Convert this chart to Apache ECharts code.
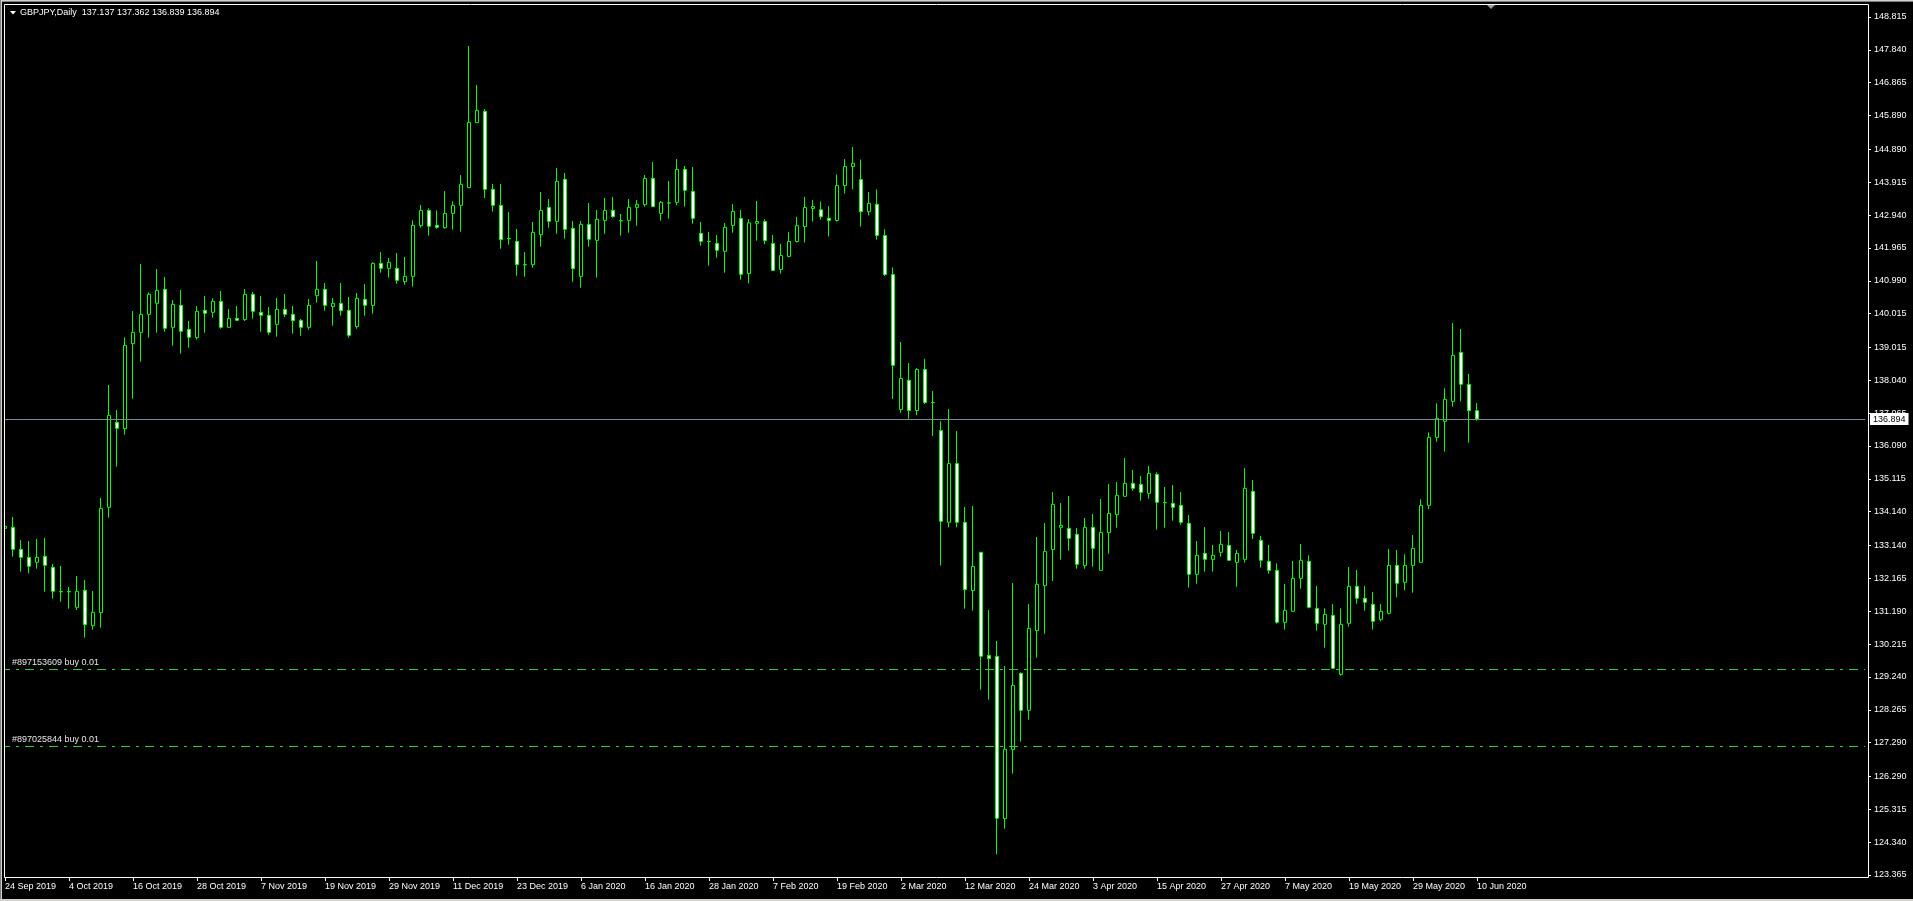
<!DOCTYPE html>
<html><head><meta charset="utf-8">
<script src="https://cdn.jsdelivr.net/npm/echarts@6/dist/echarts.min.js"></script>
<style>html,body{margin:0;padding:0;background:#000;overflow:hidden}#c{width:1913px;height:901px}</style>
</head><body><div id="c"></div><script>
const symbolName = 'GBPJPY,Daily';
const firstDate = '2019-09-24';
const holidays = ['2019-12-25', '2020-01-01'];
const futureSlots = 48;

const opens = [133.648,133.678,133.025,132.788,132.640,132.818,132.491,131.775,131.775,131.305,
131.809,130.761,131.147,134.271,136.792,136.604,139.126,139.462,139.996,140.322,
140.737,139.610,140.263,139.551,139.304,140.114,140.055,140.381,139.610,139.877,
139.838,140.589,140.055,139.966,139.699,140.144,139.996,139.818,139.610,140.549,
140.737,140.223,140.322,140.114,139.630,140.440,140.262,141.508,141.360,141.360,
140.964,141.123,142.625,143.080,142.635,142.566,142.991,143.229,143.753,145.681,
146.017,143.703,143.229,142.245,142.160,141.470,141.468,142.358,143.169,142.754,
144.000,142.546,141.122,142.665,142.190,142.783,143.080,142.776,142.783,143.169,
143.248,144.029,142.991,143.300,143.317,144.296,143.644,142.398,142.162,142.101,
141.864,142.635,142.843,141.203,142.694,142.749,142.100,141.327,141.714,142.156,
142.597,143.136,143.095,142.846,142.777,143.813,144.379,143.992,143.039,143.260,
142.335,141.175,137.170,138.040,137.142,138.358,137.379,136.549,133.828,135.568,
133.826,131.799,132.936,129.881,129.851,125.036,127.083,129.347,128.249,130.612,
131.947,133.015,133.677,133.648,133.470,132.540,133.677,132.402,133.519,134.053,
134.597,134.982,134.953,134.686,135.249,134.411,134.389,134.330,133.796,132.283,
132.906,132.728,132.936,133.144,132.639,132.728,134.745,133.292,132.669,132.402,
130.860,131.186,132.165,132.669,131.275,130.800,131.067,129.317,130.830,131.928,
131.572,131.394,130.949,131.127,132.550,132.046,132.550,132.639,134.330,136.347,
136.822,137.415,138.868,137.919,137.137];

const highs = [134.607,133.984,133.302,133.272,133.332,133.362,132.590,132.531,131.908,132.234,
132.116,131.789,134.548,137.900,137.158,139.313,140.095,141.489,140.648,141.340,
141.103,140.421,140.717,139.798,140.243,140.540,140.470,140.688,140.154,140.243,
140.747,140.658,140.539,140.213,140.480,140.599,140.243,139.857,140.450,141.577,
140.925,140.480,140.925,140.510,140.628,140.895,141.538,141.845,141.667,141.815,
141.696,142.784,143.239,143.140,143.080,143.654,143.347,144.128,147.955,146.798,
146.086,143.861,143.861,143.031,142.526,141.844,142.734,143.624,143.416,144.336,
144.187,142.764,142.764,143.298,143.090,143.446,143.476,142.971,143.416,143.387,
144.128,144.514,143.357,143.950,144.603,144.395,144.365,142.734,142.437,142.348,
142.704,143.268,143.090,142.818,143.357,142.818,142.349,142.087,142.432,142.888,
143.481,143.385,143.343,143.205,144.144,144.600,144.959,144.586,143.619,143.702,
142.515,141.382,139.173,138.551,138.399,138.676,137.723,136.825,137.184,136.535,
134.280,134.310,132.950,131.225,130.306,129.564,132.026,129.376,131.403,133.391,
133.806,134.725,134.399,134.607,133.658,133.954,134.073,134.518,134.963,135.022,
135.734,135.378,135.200,135.497,135.309,134.874,134.933,134.725,134.043,133.272,
133.687,133.153,133.569,133.539,133.005,135.437,135.082,133.420,133.153,132.610,
131.997,132.679,133.183,132.847,131.938,131.275,131.404,131.275,132.501,132.412,
131.938,131.760,131.404,133.035,133.005,132.877,133.450,134.508,136.495,137.356,
137.801,139.738,139.560,138.226,137.362];

const lows = [133.520,132.808,132.363,132.314,132.452,131.770,131.562,131.473,131.265,131.226,
130.405,130.642,130.702,133.965,135.477,136.426,137.494,138.592,139.304,139.452,
139.482,139.066,138.829,139.007,139.244,139.452,139.897,139.571,139.600,139.798,
139.798,139.867,139.481,139.392,139.333,139.917,139.422,139.363,139.541,140.342,
140.104,139.659,139.956,139.303,139.570,139.956,140.016,141.231,141.083,140.905,
140.875,140.816,142.566,142.329,142.537,142.537,142.507,142.447,143.740,145.670,
143.446,143.041,141.943,142.062,141.142,141.112,141.379,142.002,142.566,142.388,
142.240,140.964,140.786,142.002,141.083,142.388,142.863,142.329,142.418,142.625,
143.189,143.180,142.774,142.833,143.228,143.189,142.684,142.032,141.439,141.676,
141.231,142.418,141.023,140.913,142.183,142.073,141.285,141.203,141.686,142.128,
142.128,142.749,142.805,142.307,142.749,143.578,143.702,142.597,142.929,142.211,
141.134,137.488,137.074,136.894,137.004,137.336,136.383,132.544,133.676,133.676,
131.265,131.205,128.862,128.566,123.980,124.739,126.371,127.320,127.972,129.811,
130.523,132.085,132.718,132.985,132.451,132.451,132.511,132.392,132.896,133.667,
134.587,134.765,134.468,134.528,133.608,133.667,133.875,133.756,131.888,132.006,
132.363,132.363,132.807,132.689,131.918,132.630,133.331,132.481,132.303,130.820,
130.642,131.176,131.858,131.275,130.613,130.108,129.486,129.278,130.731,131.413,
131.206,130.642,130.889,131.097,131.601,131.809,131.740,132.630,134.211,136.219,
135.922,137.257,137.415,136.189,136.839];

const closes = [133.707,133.025,132.788,132.521,132.788,132.551,131.780,131.765,131.765,131.780,
130.791,131.157,134.241,137.000,136.614,139.076,139.462,139.996,140.589,140.708,
139.581,140.292,139.492,139.314,140.085,140.025,140.381,139.610,139.877,139.818,
140.589,140.085,139.966,139.462,140.144,139.996,139.808,139.610,140.262,140.737,
140.262,140.322,140.104,139.373,140.470,140.262,141.508,141.360,141.538,141.004,
141.123,142.635,143.080,142.606,142.576,142.991,143.229,143.852,145.691,146.047,
143.703,143.229,142.210,142.235,141.468,141.466,142.427,143.080,142.754,143.941,
142.516,141.350,142.665,142.220,142.813,143.080,142.892,142.772,143.169,143.258,
144.029,143.189,143.317,143.296,144.296,143.673,142.843,142.160,142.158,141.894,
142.576,143.050,141.182,142.708,142.749,142.183,141.299,141.741,142.156,142.625,
143.164,143.191,142.888,142.777,143.813,144.379,144.476,143.039,143.288,142.335,
141.175,138.482,138.095,137.142,138.358,137.377,137.375,133.856,135.568,133.828,
131.828,132.520,129.851,129.782,125.046,127.093,128.991,128.249,130.682,131.987,
132.965,134.359,133.737,133.351,132.580,133.677,133.054,133.529,134.093,134.627,
134.982,134.834,134.716,135.279,134.419,134.407,134.271,133.826,132.283,132.847,
132.728,132.847,133.173,132.699,132.906,134.834,133.499,132.699,132.402,130.860,
131.216,132.165,132.699,131.305,130.830,131.097,129.496,130.800,131.928,131.572,
131.453,130.889,131.186,132.550,132.017,132.550,133.054,134.330,136.347,136.911,
137.474,138.779,137.919,137.137,136.894];

const priceTicks = [148.815,147.840,146.865,145.890,144.890,143.915,142.940,141.965,140.990,140.015,
139.015,138.040,137.065,136.090,135.115,134.140,133.140,132.165,131.190,130.215,
129.240,128.265,127.290,126.290,125.315,124.340,123.365];

const orderLabels = ['#897153609 buy 0.01', '#897025844 buy 0.01'];
const orderPrices = [129.465, 127.19];
const bidPrice = 136.894;
const priceMin = 123.3057, priceMax = 149.2006;

// trading-day categories
const MONTHS = ['Jan','Feb','Mar','Apr','May','Jun','Jul','Aug','Sep','Oct','Nov','Dec'];
const dates = [];
(function () {
  let d = new Date(firstDate + 'T00:00:00Z');
  while (dates.length < opens.length) {
    const iso = d.toISOString().slice(0, 10);
    const wd = d.getUTCDay();
    if (wd !== 0 && wd !== 6 && holidays.indexOf(iso) < 0) {
      dates.push(d.getUTCDate() + ' ' + MONTHS[d.getUTCMonth()] + ' ' + d.getUTCFullYear());
    }
    d = new Date(d.getTime() + 86400000);
  }
})();
const categories = dates.concat(new Array(futureSlots).fill(''));
const candles = opens.map((o, i) => [o, closes[i], lows[i], highs[i]]);

const last = opens.length - 1;
const titleText = symbolName + '  ' + [opens[last], highs[last], lows[last], closes[last]].map(v => v.toFixed(3)).join(' ');

const FONT = 'Liberation Sans';
const LIME = '#00ff00';
const tickEvery = (i, v) => i % 8 === 0 && v !== '';

const chart = echarts.init(document.getElementById('c'), null, { renderer: 'canvas' });
const markData = [
  {
    yAxis: bidPrice,
    lineStyle: { color: '#778899', type: 'solid', width: 1 },
    label: {
      show: true, position: 'end', distance: 5,
      formatter: bidPrice.toFixed(3),
      color: '#000', backgroundColor: '#fff', padding: [2, 3, 1, 3],
      fontFamily: FONT, fontSize: 9
    }
  }
].concat(orderPrices.map((p, k) => ({
  yAxis: p,
  lineStyle: { color: '#32cd32', type: [9, 6, 3, 6], width: 1 },
  label: {
    show: true, position: 'insideStartTop', distance: [11, 2],
    formatter: orderLabels[k],
    color: '#e6e6e6', fontFamily: FONT, fontSize: 9
  }
})));

chart.setOption({
  animation: false,
  backgroundColor: '#000',
  textStyle: { fontFamily: FONT },
  grid: { left: 1, top: 4, width: 1864, height: 873, show: false },
  xAxis: {
    type: 'category', data: categories, boundaryGap: true,
    axisLine: { show: false },
    axisTick: { show: true, alignWithLabel: true, interval: tickEvery, length: 4, lineStyle: { color: '#fff' } },
    axisLabel: { interval: tickEvery, align: 'left', color: '#fff', fontFamily: FONT, fontSize: 9, margin: 5 },
    splitLine: { show: false }
  },
  yAxis: {
    type: 'value', position: 'right', offset: 3, scale: true,
    min: priceMin, max: priceMax,
    axisLine: { show: false },
    axisTick: { show: true, length: 3, lineStyle: { color: '#fff' }, customValues: priceTicks },
    axisLabel: { color: '#fff', fontFamily: FONT, fontSize: 9, margin: 6, customValues: priceTicks,
      formatter: v => Number(v).toFixed(3) },
    splitLine: { show: false }
  },
  series: [{
    type: 'candlestick',
    data: candles,
    barWidth: 4,
    clip: true,
    itemStyle: {
      color: '#000', color0: '#fff',
      borderColor: LIME, borderColor0: LIME, borderColorDoji: LIME, borderWidth: 1
    },
    markLine: {
      silent: true, symbol: ['none', 'none'], animation: false,
      data: markData
    }
  }],
  graphic: [
    { type: 'rect', z: 100, silent: true, shape: { x: 0, y: 0, width: 4, height: 901 }, style: { fill: '#000' } },
    { type: 'rect', z: 100, silent: true, shape: { x: 0, y: 0, width: 1913, height: 4 }, style: { fill: '#000' } },
    { type: 'rect', z: 101, silent: true, shape: { x: 0, y: 0, width: 1913, height: 1 }, style: { fill: '#d4d0c8' } },
    { type: 'rect', z: 101, silent: true, shape: { x: 0, y: 1, width: 1913, height: 1 }, style: { fill: '#808080' } },
    { type: 'rect', z: 101, silent: true, shape: { x: 0, y: 0, width: 1, height: 901 }, style: { fill: '#808080' } },
    { type: 'rect', z: 101, silent: true, shape: { x: 1, y: 0, width: 1, height: 901 }, style: { fill: '#d4d0c8' } },
    { type: 'rect', z: 101, silent: true, shape: { x: 0, y: 899, width: 1913, height: 2 }, style: { fill: '#d4d0c8' } },
    { type: 'rect', z: 102, silent: true, shape: { x: 4.5, y: 4.5, width: 1864, height: 873 },
      style: { fill: 'none', stroke: '#fff', lineWidth: 1 } },
    { type: 'polygon', z: 102, silent: true, shape: { points: [[10, 11], [16, 11], [13, 14.5]] }, style: { fill: '#fff' } },
    { type: 'text', z: 102, silent: true, x: 20, y: 13,
      style: { text: titleText, fill: '#fff', font: '9px "Liberation Sans"', verticalAlign: 'middle', align: 'left' } },
    { type: 'polygon', z: 102, silent: true, shape: { points: [[1487, 5], [1495, 5], [1491, 9]] }, style: { fill: '#9a9a9a' } }
  ]
});
</script></body></html>
